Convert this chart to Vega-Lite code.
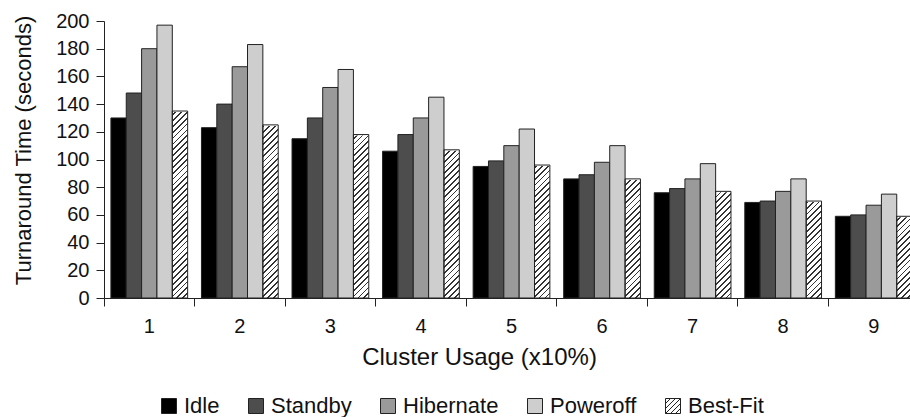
{
  "$schema": "https://vega.github.io/schema/vega-lite/v6.json",
  "autosize": "none",
  "width": 806,
  "height": 277,
  "padding": {"left": 104, "top": 21, "right": 0, "bottom": 119},
  "config": {"font": "Liberation Sans", "view": {"stroke": null},
    "axisY": {"labelOverlap": false, "grid": false, "tickSize": 8, "labelPadding": 7, "domainColor": "#222", "tickColor": "#222", "labelColor": "#111", "labelFontSize": 20, "labelFont": "Liberation Sans",
      "titleFontSize": 22, "titleFontWeight": "normal", "titleColor": "#111", "titleFont": "Liberation Sans", "titleX": -69, "titleY": 129, "titleAngle": 270, "titleBaseline": "bottom", "titleAlign": "center"}},
  "data": {"values": [
    {"g": "1", "policy": "Idle", "value": 130}, {"g": "1", "policy": "Standby", "value": 148}, {"g": "1", "policy": "Hibernate", "value": 180}, {"g": "1", "policy": "Poweroff", "value": 197}, {"g": "1", "policy": "Best-Fit", "value": 135},
    {"g": "2", "policy": "Idle", "value": 123}, {"g": "2", "policy": "Standby", "value": 140}, {"g": "2", "policy": "Hibernate", "value": 167}, {"g": "2", "policy": "Poweroff", "value": 183}, {"g": "2", "policy": "Best-Fit", "value": 125},
    {"g": "3", "policy": "Idle", "value": 115}, {"g": "3", "policy": "Standby", "value": 130}, {"g": "3", "policy": "Hibernate", "value": 152}, {"g": "3", "policy": "Poweroff", "value": 165}, {"g": "3", "policy": "Best-Fit", "value": 118},
    {"g": "4", "policy": "Idle", "value": 106}, {"g": "4", "policy": "Standby", "value": 118}, {"g": "4", "policy": "Hibernate", "value": 130}, {"g": "4", "policy": "Poweroff", "value": 145}, {"g": "4", "policy": "Best-Fit", "value": 107},
    {"g": "5", "policy": "Idle", "value": 95}, {"g": "5", "policy": "Standby", "value": 99}, {"g": "5", "policy": "Hibernate", "value": 110}, {"g": "5", "policy": "Poweroff", "value": 122}, {"g": "5", "policy": "Best-Fit", "value": 96},
    {"g": "6", "policy": "Idle", "value": 86}, {"g": "6", "policy": "Standby", "value": 89}, {"g": "6", "policy": "Hibernate", "value": 98}, {"g": "6", "policy": "Poweroff", "value": 110}, {"g": "6", "policy": "Best-Fit", "value": 86},
    {"g": "7", "policy": "Idle", "value": 76}, {"g": "7", "policy": "Standby", "value": 79}, {"g": "7", "policy": "Hibernate", "value": 86}, {"g": "7", "policy": "Poweroff", "value": 97}, {"g": "7", "policy": "Best-Fit", "value": 77},
    {"g": "8", "policy": "Idle", "value": 69}, {"g": "8", "policy": "Standby", "value": 70}, {"g": "8", "policy": "Hibernate", "value": 77}, {"g": "8", "policy": "Poweroff", "value": 86}, {"g": "8", "policy": "Best-Fit", "value": 70},
    {"g": "9", "policy": "Idle", "value": 59}, {"g": "9", "policy": "Standby", "value": 60}, {"g": "9", "policy": "Hibernate", "value": 67}, {"g": "9", "policy": "Poweroff", "value": 75}, {"g": "9", "policy": "Best-Fit", "value": 59}
  ]},
  "encoding": {
    "x": {"field": "g", "type": "ordinal", "scale": {"range": [0, 815], "paddingInner": 0, "paddingOuter": 0},
      "axis": {"title": "Cluster Usage (x10%)", "labelAngle": 0, "bandPosition": 0, "grid": false, "ticks": true, "tickSize": 8, "labelPadding": 10,
        "domainColor": "#222", "tickColor": "#222", "labelColor": "#111", "labelFontSize": 20, "labelFont": "Liberation Sans",
        "titleFontSize": 24, "titleFontWeight": "normal", "titleColor": "#111", "titleFont": "Liberation Sans", "titleX": 375, "titleY": 66, "titleBaseline": "alphabetic", "titleAlign": "center"}},
    "xOffset": {"field": "policy", "type": "nominal", "sort": ["Idle", "Standby", "Hibernate", "Poweroff", "Best-Fit"], "scale": {"domain": ["Idle", "Standby", "Hibernate", "Poweroff", "Best-Fit"], "paddingInner": 0, "paddingOuter": 0.45}}
  },
  "layer": [
    {
      "transform": [{"filter": "datum.policy === 'Best-Fit'"}],
      "mark": {"type": "bar", "strokeWidth": 0, "fill": {"gradient": "linear", "x1": 0, "y1": 0, "x2": 0.0583, "y2": 1.0522, "stops": [
        {"offset":0,"color":"#333"},{"offset":0.006,"color":"#333"},{"offset":0.006,"color":"#fff"},{"offset":0.02,"color":"#fff"},
        {"offset":0.02,"color":"#333"},{"offset":0.026,"color":"#333"},{"offset":0.026,"color":"#fff"},{"offset":0.04,"color":"#fff"},
        {"offset":0.04,"color":"#333"},{"offset":0.046,"color":"#333"},{"offset":0.046,"color":"#fff"},{"offset":0.06,"color":"#fff"},
        {"offset":0.06,"color":"#333"},{"offset":0.066,"color":"#333"},{"offset":0.066,"color":"#fff"},{"offset":0.08,"color":"#fff"},
        {"offset":0.08,"color":"#333"},{"offset":0.086,"color":"#333"},{"offset":0.086,"color":"#fff"},{"offset":0.1,"color":"#fff"},
        {"offset":0.1,"color":"#333"},{"offset":0.106,"color":"#333"},{"offset":0.106,"color":"#fff"},{"offset":0.12,"color":"#fff"},
        {"offset":0.12,"color":"#333"},{"offset":0.126,"color":"#333"},{"offset":0.126,"color":"#fff"},{"offset":0.14,"color":"#fff"},
        {"offset":0.14,"color":"#333"},{"offset":0.146,"color":"#333"},{"offset":0.146,"color":"#fff"},{"offset":0.16,"color":"#fff"},
        {"offset":0.16,"color":"#333"},{"offset":0.166,"color":"#333"},{"offset":0.166,"color":"#fff"},{"offset":0.18,"color":"#fff"},
        {"offset":0.18,"color":"#333"},{"offset":0.186,"color":"#333"},{"offset":0.186,"color":"#fff"},{"offset":0.2,"color":"#fff"},
        {"offset":0.2,"color":"#333"},{"offset":0.206,"color":"#333"},{"offset":0.206,"color":"#fff"},{"offset":0.22,"color":"#fff"},
        {"offset":0.22,"color":"#333"},{"offset":0.226,"color":"#333"},{"offset":0.226,"color":"#fff"},{"offset":0.24,"color":"#fff"},
        {"offset":0.24,"color":"#333"},{"offset":0.246,"color":"#333"},{"offset":0.246,"color":"#fff"},{"offset":0.26,"color":"#fff"},
        {"offset":0.26,"color":"#333"},{"offset":0.266,"color":"#333"},{"offset":0.266,"color":"#fff"},{"offset":0.28,"color":"#fff"},
        {"offset":0.28,"color":"#333"},{"offset":0.286,"color":"#333"},{"offset":0.286,"color":"#fff"},{"offset":0.3,"color":"#fff"},
        {"offset":0.3,"color":"#333"},{"offset":0.306,"color":"#333"},{"offset":0.306,"color":"#fff"},{"offset":0.32,"color":"#fff"},
        {"offset":0.32,"color":"#333"},{"offset":0.326,"color":"#333"},{"offset":0.326,"color":"#fff"},{"offset":0.34,"color":"#fff"},
        {"offset":0.34,"color":"#333"},{"offset":0.346,"color":"#333"},{"offset":0.346,"color":"#fff"},{"offset":0.36,"color":"#fff"},
        {"offset":0.36,"color":"#333"},{"offset":0.366,"color":"#333"},{"offset":0.366,"color":"#fff"},{"offset":0.38,"color":"#fff"},
        {"offset":0.38,"color":"#333"},{"offset":0.386,"color":"#333"},{"offset":0.386,"color":"#fff"},{"offset":0.4,"color":"#fff"},
        {"offset":0.4,"color":"#333"},{"offset":0.406,"color":"#333"},{"offset":0.406,"color":"#fff"},{"offset":0.42,"color":"#fff"},
        {"offset":0.42,"color":"#333"},{"offset":0.426,"color":"#333"},{"offset":0.426,"color":"#fff"},{"offset":0.44,"color":"#fff"},
        {"offset":0.44,"color":"#333"},{"offset":0.446,"color":"#333"},{"offset":0.446,"color":"#fff"},{"offset":0.46,"color":"#fff"},
        {"offset":0.46,"color":"#333"},{"offset":0.466,"color":"#333"},{"offset":0.466,"color":"#fff"},{"offset":0.48,"color":"#fff"},
        {"offset":0.48,"color":"#333"},{"offset":0.486,"color":"#333"},{"offset":0.486,"color":"#fff"},{"offset":0.5,"color":"#fff"},
        {"offset":0.5,"color":"#333"},{"offset":0.506,"color":"#333"},{"offset":0.506,"color":"#fff"},{"offset":0.52,"color":"#fff"},
        {"offset":0.52,"color":"#333"},{"offset":0.526,"color":"#333"},{"offset":0.526,"color":"#fff"},{"offset":0.54,"color":"#fff"},
        {"offset":0.54,"color":"#333"},{"offset":0.546,"color":"#333"},{"offset":0.546,"color":"#fff"},{"offset":0.56,"color":"#fff"},
        {"offset":0.56,"color":"#333"},{"offset":0.566,"color":"#333"},{"offset":0.566,"color":"#fff"},{"offset":0.58,"color":"#fff"},
        {"offset":0.58,"color":"#333"},{"offset":0.586,"color":"#333"},{"offset":0.586,"color":"#fff"},{"offset":0.6,"color":"#fff"},
        {"offset":0.6,"color":"#333"},{"offset":0.606,"color":"#333"},{"offset":0.606,"color":"#fff"},{"offset":0.62,"color":"#fff"},
        {"offset":0.62,"color":"#333"},{"offset":0.626,"color":"#333"},{"offset":0.626,"color":"#fff"},{"offset":0.64,"color":"#fff"},
        {"offset":0.64,"color":"#333"},{"offset":0.646,"color":"#333"},{"offset":0.646,"color":"#fff"},{"offset":0.66,"color":"#fff"},
        {"offset":0.66,"color":"#333"},{"offset":0.666,"color":"#333"},{"offset":0.666,"color":"#fff"},{"offset":0.68,"color":"#fff"},
        {"offset":0.68,"color":"#333"},{"offset":0.686,"color":"#333"},{"offset":0.686,"color":"#fff"},{"offset":0.7,"color":"#fff"},
        {"offset":0.7,"color":"#333"},{"offset":0.706,"color":"#333"},{"offset":0.706,"color":"#fff"},{"offset":0.72,"color":"#fff"},
        {"offset":0.72,"color":"#333"},{"offset":0.726,"color":"#333"},{"offset":0.726,"color":"#fff"},{"offset":0.74,"color":"#fff"},
        {"offset":0.74,"color":"#333"},{"offset":0.746,"color":"#333"},{"offset":0.746,"color":"#fff"},{"offset":0.76,"color":"#fff"},
        {"offset":0.76,"color":"#333"},{"offset":0.766,"color":"#333"},{"offset":0.766,"color":"#fff"},{"offset":0.78,"color":"#fff"},
        {"offset":0.78,"color":"#333"},{"offset":0.786,"color":"#333"},{"offset":0.786,"color":"#fff"},{"offset":0.8,"color":"#fff"},
        {"offset":0.8,"color":"#333"},{"offset":0.806,"color":"#333"},{"offset":0.806,"color":"#fff"},{"offset":0.82,"color":"#fff"},
        {"offset":0.82,"color":"#333"},{"offset":0.826,"color":"#333"},{"offset":0.826,"color":"#fff"},{"offset":0.84,"color":"#fff"},
        {"offset":0.84,"color":"#333"},{"offset":0.846,"color":"#333"},{"offset":0.846,"color":"#fff"},{"offset":0.86,"color":"#fff"},
        {"offset":0.86,"color":"#333"},{"offset":0.866,"color":"#333"},{"offset":0.866,"color":"#fff"},{"offset":0.88,"color":"#fff"},
        {"offset":0.88,"color":"#333"},{"offset":0.886,"color":"#333"},{"offset":0.886,"color":"#fff"},{"offset":0.9,"color":"#fff"},
        {"offset":0.9,"color":"#333"},{"offset":0.906,"color":"#333"},{"offset":0.906,"color":"#fff"},{"offset":0.92,"color":"#fff"},
        {"offset":0.92,"color":"#333"},{"offset":0.926,"color":"#333"},{"offset":0.926,"color":"#fff"},{"offset":0.94,"color":"#fff"},
        {"offset":0.94,"color":"#333"},{"offset":0.946,"color":"#333"},{"offset":0.946,"color":"#fff"},{"offset":0.96,"color":"#fff"},
        {"offset":0.96,"color":"#333"},{"offset":0.966,"color":"#333"},{"offset":0.966,"color":"#fff"},{"offset":0.98,"color":"#fff"},
        {"offset":0.98,"color":"#333"},{"offset":0.986,"color":"#333"},{"offset":0.986,"color":"#fff"},{"offset":1,"color":"#fff"}
      ]}},
      "encoding": {
        "y": {"datum": 200, "type": "quantitative", "axis": {"title": "Turnaround Time (seconds)", "values": [0, 20, 40, 60, 80, 100, 120, 140, 160, 180, 200]}},
        "y2": {"datum": 0}
      }
    },
    {
      "transform": [{"filter": "datum.policy === 'Best-Fit'"}],
      "mark": {"type": "bar", "fill": "white", "stroke": "white", "strokeWidth": 2},
      "encoding": {
        "y": {"field": "value", "type": "quantitative", "axis": {"title": "Turnaround Time (seconds)", "values": [0, 20, 40, 60, 80, 100, 120, 140, 160, 180, 200]}},
        "y2": {"datum": 200}
      }
    },
    {
      "mark": {"type": "bar", "stroke": "#222", "strokeWidth": 1},
      "encoding": {
        "y": {"field": "value", "type": "quantitative", "scale": {"domain": [0, 200], "nice": false, "zero": true},
          "axis": {"title": "Turnaround Time (seconds)", "values": [0, 20, 40, 60, 80, 100, 120, 140, 160, 180, 200]}},
        "fill": {"field": "policy", "type": "nominal", "sort": ["Idle", "Standby", "Hibernate", "Poweroff", "Best-Fit"],
          "scale": {"domain": ["Idle", "Standby", "Hibernate", "Poweroff", "Best-Fit"], "range": ["#000000", "#4d4d4d", "#9a9a9a", "#cecece", "transparent"]},
          "legend": {"title": null, "orient": "none", "legendX": 54, "legendY": 374, "direction": "horizontal", "columns": 5, "padding": 0,
            "symbolType": "square", "symbolSize": 225, "symbolStrokeColor": "#222", "symbolStrokeWidth": 1, "symbolOpacity": 1,
            "labelFontSize": 22, "labelFont": "Liberation Sans", "labelColor": "#111", "labelOffset": 4, "columnPadding": 25,
            "encoding": {"symbols": {
              "stroke": {"value": "#222"},
              "strokeWidth": {"value": 1},
              "shape": {"condition": {"test": "datum.value === 'Best-Fit'", "value": "M-1,-1H1V1H-1Z M-1,-0.33L-0.33,-1 M-1,0.33L0.33,-1 M-1,1L1,-1 M-0.33,1L1,-0.33 M0.33,1L1,0.33"}, "value": "square"},
              "fill": {"condition": [
                {"test": "datum.value === 'Idle'", "value": "#000000"},
                {"test": "datum.value === 'Standby'", "value": "#4d4d4d"},
                {"test": "datum.value === 'Hibernate'", "value": "#9a9a9a"},
                {"test": "datum.value === 'Best-Fit'", "value": "#ffffff"}
              ], "value": "#cecece"}
            }}
          }}
      }
    }
  ]
}
